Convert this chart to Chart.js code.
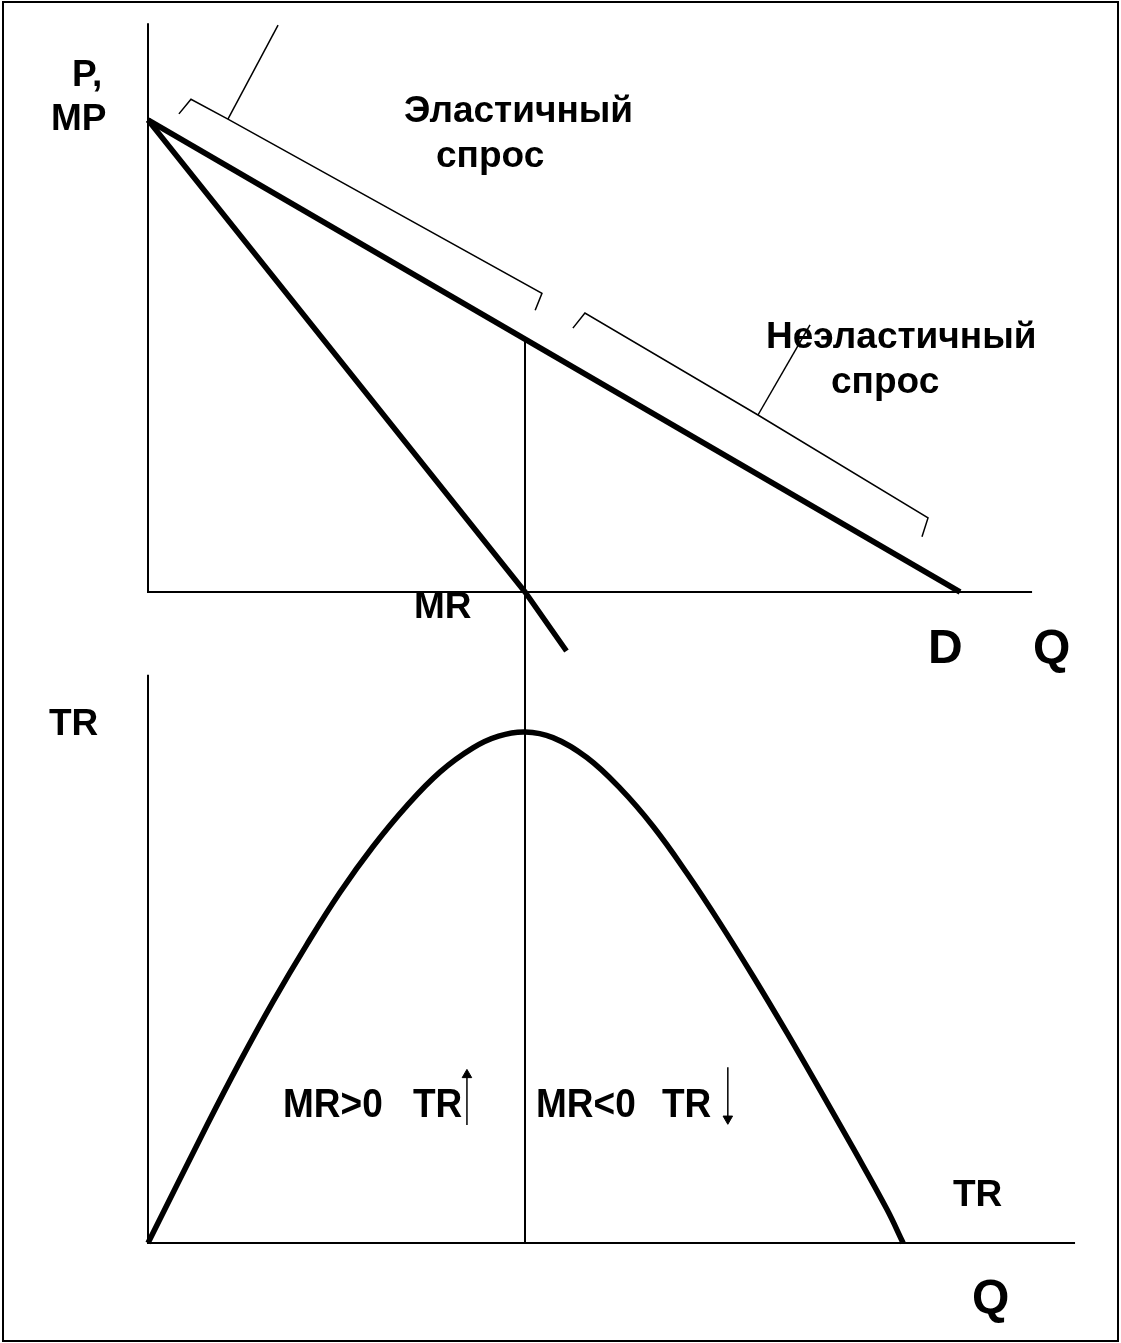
<!DOCTYPE html>
<html>
<head>
<meta charset="utf-8">
<script src="https://cdn.jsdelivr.net/npm/chart.js@4"></script>
<style>
  body { margin: 0; background: #fff; }
  canvas { display: block; }
</style>
</head>
<body>
<canvas id="the-chart" width="1121" height="1343"></canvas>
<script>
//
// Demand, marginal revenue and total revenue
//

// Upper panel: price / marginal revenue against quantity.
const demandQ = [0, 21.54];
const demandP = [10, 0];
const mrQ = [0, 10, 11.1];
const mrP = [10, 0, -1.25];
const priceAxisQ = [0, 0, 23.45];
const priceAxisP = [12.05, 0, 0];

// Braces over the demand line.
const elasticBraceQ = [0.82, 1.14, 2.12, 10.45, 10.27];
const elasticBraceP = [10.13, 10.44, 10.02, 6.33, 5.97];
const elasticPointerQ = [2.12, 3.45];
const elasticPointerP = [10.02, 12.01];
const inelasticBraceQ = [11.27, 11.59, 16.18, 20.69, 20.53];
const inelasticBraceP = [5.59, 5.91, 3.75, 1.57, 1.17];
const inelasticPointerQ = [16.18, 17.56];
const inelasticPointerP = [3.75, 5.66];

// Lower panel: total revenue against quantity.
const trQ = [0, 1.56, 2.44, 3.32, 4.22, 5.09, 5.97, 6.87, 7.75, 8.62, 9.3, 10,
  10.74, 11.64, 12.52, 13.40, 14.30, 15.17, 16.05, 16.95, 17.82, 18.70, 19.60, 20.03];
const trValues = [0, 23.0, 35.5, 47.3, 58.5, 68.6, 77.6, 85.6, 92.2, 96.9, 99.2, 100,
  98.9, 95.0, 89.0, 81.5, 72.3, 62.6, 52.2, 41.1, 30.0, 18.6, 6.6, 0];
const revenueAxisQ = [0, 0, 24.59];
const revenueAxisTR = [111.2, 0, 0];
const trPeakQ = 10;

// Small arrows next to the TR signs.
const upArrowQ = [8.46, 8.46];
const upArrowTR = [23.1, 32.9];
const downArrowQ = [15.38, 15.38];
const downArrowTR = [34.4, 24.3];

const labels = [
  { text: 'P,', x: 72, y: 86, size: 37 },
  { text: 'MP', x: 51, y: 130, size: 37 },
  { text: 'Эластичный', x: 404, y: 122, size: 37 },
  { text: 'спрос', x: 436, y: 167, size: 37 },
  { text: 'Неэластичный', x: 766, y: 348, size: 37 },
  { text: 'спрос', x: 831, y: 393, size: 37 },
  { text: 'MR', x: 414, y: 618, size: 37 },
  { text: 'D', x: 928, y: 663, size: 48 },
  { text: 'Q', x: 1033, y: 663, size: 48 },
  { text: 'TR', x: 49, y: 735, size: 37 },
  { text: 'MR>0', x: 283, y: 1117, size: 37, sy: 1.1 },
  { text: 'TR', x: 413, y: 1117, size: 37, sy: 1.1 },
  { text: 'MR<0', x: 536, y: 1117, size: 37, sy: 1.1 },
  { text: 'TR', x: 662, y: 1117, size: 37, sy: 1.1 },
  { text: 'TR', x: 953, y: 1206, size: 37 },
  { text: 'Q', x: 972, y: 1313, size: 48 }
];

function series(qs, vs) {
  return qs.map((q, i) => ({ x: q, y: vs[i] }));
}

// Scale bounds from two pixel anchors, so the whole canvas is the plot area.
function linearRange(pxA, vA, pxB, vB, size, inverted) {
  const k = (vB - vA) / (pxB - pxA);
  const at = (px) => vA + (px - pxA) * k;
  return inverted ? { min: at(size), max: at(0) } : { min: at(0), max: at(size) };
}

function line(data, yAxisID, width, extra) {
  return Object.assign({
    data: data,
    yAxisID: yAxisID,
    showLine: true,
    borderColor: '#000',
    backgroundColor: '#000',
    borderWidth: width,
    pointRadius: 0,
    fill: false
  }, extra || {});
}

const qRange = linearRange(148, 0, 525, 10, 1121, false);
const pRange = linearRange(592, 0, 120, 10, 1343, true);
const trRange = linearRange(1243, 0, 732, 100, 1343, true);

// Vertical guide at the TR peak, from the demand line to the TR axis.
const guidePlugin = {
  id: 'guide',
  beforeDatasetsDraw(chart) {
    const { ctx, scales } = chart;
    const pAtPeak = demandP[0] + (demandP[1] - demandP[0]) * (trPeakQ - demandQ[0]) / (demandQ[1] - demandQ[0]);
    const x = scales.x.getPixelForValue(trPeakQ);
    ctx.save();
    ctx.strokeStyle = '#000';
    ctx.lineWidth = 2;
    ctx.beginPath();
    ctx.moveTo(x, scales.yP.getPixelForValue(pAtPeak));
    ctx.lineTo(x, scales.yTR.getPixelForValue(0));
    ctx.stroke();
    ctx.restore();
  }
};

const labelPlugin = {
  id: 'labels',
  afterDraw(chart) {
    const ctx = chart.ctx;
    ctx.save();
    ctx.fillStyle = '#000';
    ctx.strokeStyle = '#000';
    ctx.textAlign = 'left';
    ctx.textBaseline = 'alphabetic';
    for (const l of labels) {
      ctx.save();
      ctx.translate(l.x, l.y);
      ctx.scale(1, l.sy || 1);
      ctx.font = `bold ${l.size}px "Liberation Sans", Arial, sans-serif`;
      ctx.fillText(l.text, 0, 0);
      ctx.restore();
    }
    // Page frame.
    ctx.lineWidth = 2;
    ctx.strokeRect(3, 2, 1115, 1339);
    ctx.restore();
  }
};

const ctx = document.getElementById('the-chart');
const theChart = new Chart(ctx, {
  type: 'scatter',
  data: {
    datasets: [
      line(series(priceAxisQ, priceAxisP), 'yP', 2),
      line(series(revenueAxisQ, revenueAxisTR), 'yTR', 2),
      line(series(elasticBraceQ, elasticBraceP), 'yP', 1.5),
      line(series(elasticPointerQ, elasticPointerP), 'yP', 1.5),
      line(series(inelasticBraceQ, inelasticBraceP), 'yP', 1.5),
      line(series(inelasticPointerQ, inelasticPointerP), 'yP', 1.5),
      line(series(demandQ, demandP), 'yP', 5.5),
      line(series(mrQ, mrP), 'yP', 5.5),
      line(series(trQ, trValues), 'yTR', 5.5, { tension: 0.4 }),
      line(series(upArrowQ, upArrowTR), 'yTR', 1.5, {
        pointStyle: 'triangle', pointRadius: [0, 5.5], pointRotation: 0, pointBorderWidth: 1
      }),
      line(series(downArrowQ, downArrowTR), 'yTR', 1.5, {
        pointStyle: 'triangle', pointRadius: [0, 5.5], pointRotation: 180, pointBorderWidth: 1
      })
    ]
  },
  options: {
    responsive: false,
    animation: false,
    layout: { padding: 0, autoPadding: false },
    plugins: {
      legend: { display: false },
      tooltip: { enabled: false }
    },
    scales: {
      x: { type: 'linear', display: false, min: qRange.min, max: qRange.max },
      yP: { type: 'linear', display: false, position: 'left', min: pRange.min, max: pRange.max },
      yTR: { type: 'linear', display: false, position: 'left', min: trRange.min, max: trRange.max }
    }
  },
  plugins: [guidePlugin, labelPlugin]
});
</script>
</body>
</html>
